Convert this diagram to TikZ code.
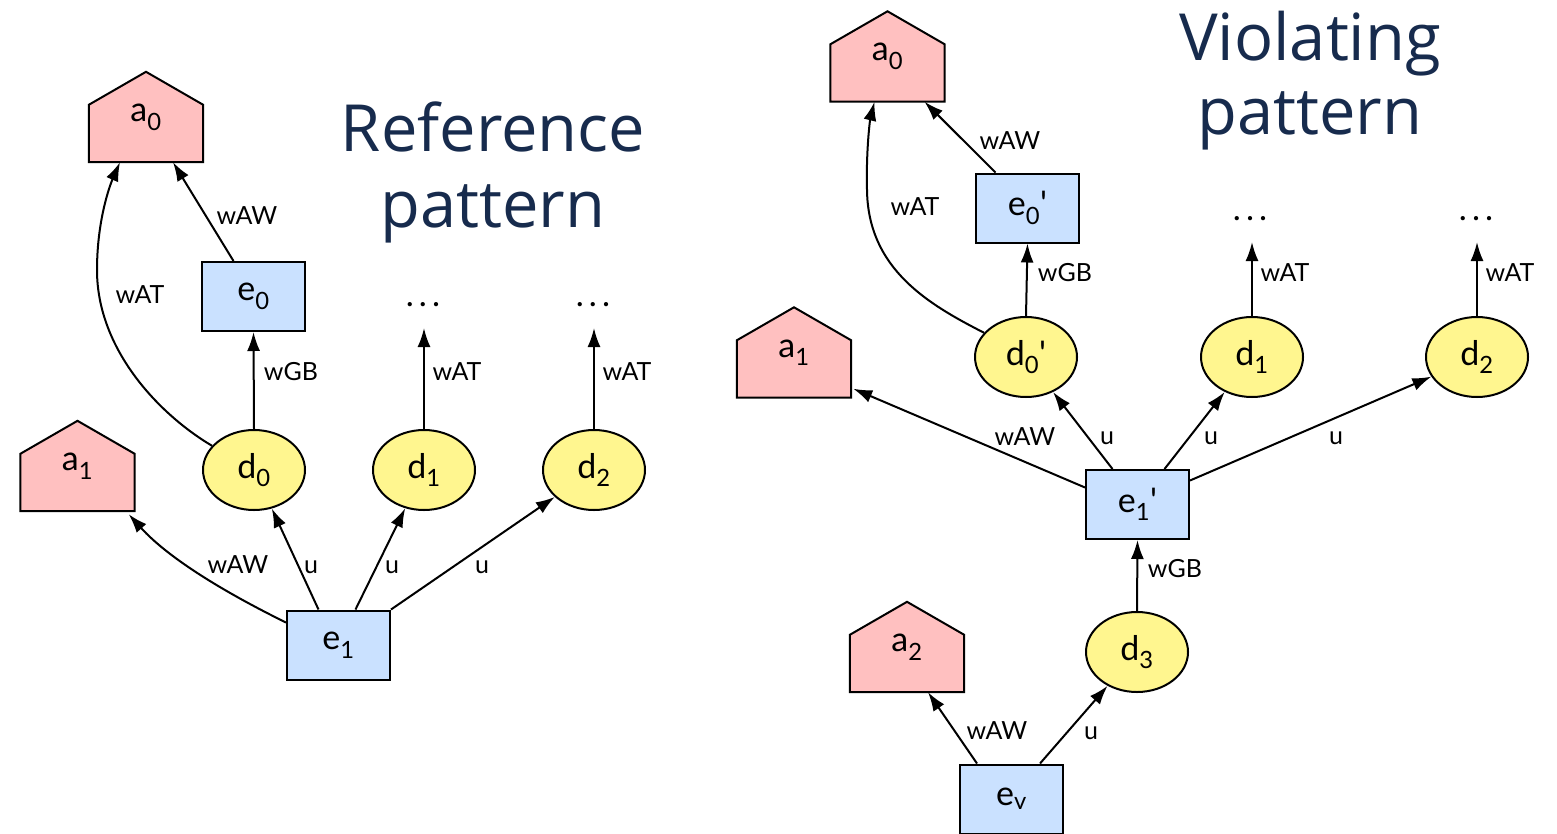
\documentclass[tikz,border=0pt]{standalone}
\usepackage{fontspec}
\setmainfont{Lato}
\newfontfamily\titlefont{Open Sans}
\usetikzlibrary{arrows.meta,backgrounds,shapes.geometric}
\definecolor{pinkf}{HTML}{FFC0C0}
\definecolor{bluef}{HTML}{CAE1FF}
\definecolor{yellowf}{HTML}{FFF68F}
\definecolor{titlec}{HTML}{172B4D}
\newcommand\lsub[1]{\textsubscript{#1}}
\newcommand\pr{\textquotesingle}
\newcommand\sdots{.\hspace{5pt}.\hspace{5pt}.}
\tikzset{
 every node/.style={inner sep=0pt},
 nfont/.style={font=\fontsize{34}{40}\selectfont},
 box/.style={nfont, draw, line width=2pt, fill=bluef, minimum width=103pt, minimum height=69pt},
 ell/.style={nfont, ellipse, draw, line width=2pt, fill=yellowf, minimum width=102pt, minimum height=80pt},
 hbox/.style={nfont, minimum width=114pt, minimum height=90pt},
 housepath/.style={draw, line width=2pt, fill=pinkf, line join=miter},
 arr/.style={draw, line width=2pt, -{Latex[length=19pt,width=13pt]}},
 lbl/.style={font=\fontsize{25}{30}\selectfont},
 ttl/.style={font=\titlefont\fontsize{65}{80}\selectfont, text=titlec, anchor=base},
 dotsn/.style={nfont, anchor=base},
}
\begin{document}
\begin{tikzpicture}[x=1pt,y=-1pt]
\useasboundingbox (0,0) rectangle (1557,833);
% ---------- titles
\node[ttl] (t1) at (493,151) {Reference};
\node[ttl] (t2) at (493,227) {pattern};
\node[ttl] (t3) at (1310,60) {Violating};
\node[ttl] (t4) at (1310,134) {pattern};
% ---------- left nodes
\node[hbox] (La0) at (146,117) {a\lsub{0}};
\node[box]  (Le0) at (253.5,296.5) {e\lsub{0}};
\node[hbox] (La1) at (77.5,466) {a\lsub{1}};
\node[ell]  (Ld0) at (254,470) {d\lsub{0}};
\node[ell]  (Ld1) at (424,470) {d\lsub{1}};
\node[ell]  (Ld2) at (594,470) {d\lsub{2}};
\node[box]  (Le1) at (338.5,645) {e\lsub{1}};
\node[dotsn] (Ldt1) at (423,306) {\sdots};
\node[dotsn] (Ldt2) at (593,306) {\sdots};
% ---------- right nodes
\node[hbox] (Ra0) at (887.5,56.5) {a\lsub{0}};
\node[box]  (Re0) at (1027.5,208) {e\lsub{0}\pr};
\node[hbox] (Ra1) at (794,352.5) {a\lsub{1}};
\node[ell]  (Rd0) at (1026,357) {d\lsub{0}\pr};
\node[ell]  (Rd1) at (1252,357) {d\lsub{1}};
\node[ell]  (Rd2) at (1477,357) {d\lsub{2}};
\node[box]  (Re1) at (1137.5,504.5) {e\lsub{1}\pr};
\node[ell]  (Rd3) at (1137,652) {d\lsub{3}};
\node[hbox] (Ra2) at (907,647) {a\lsub{2}};
\node[box]  (Rev) at (1011.5,799) {e\lsub{v}};
\node[dotsn] (Rdt1) at (1250,220) {\sdots};
\node[dotsn] (Rdt2) at (1476,220) {\sdots};
% ---------- house outlines
\begin{scope}[on background layer]
\foreach \n in {La0,La1,Ra0,Ra1,Ra2}
  \draw[housepath] (\n.south west) -- ([yshift=-33pt]\n.north west) -- (\n.north)
     -- ([yshift=-33pt]\n.north east) -- (\n.south east) -- cycle;
\end{scope}
% ---------- left edges
\draw[arr] ([xshift=-20pt]Le0.north) -- ([xshift=27pt]La0.south);
\draw[arr] (Ld0.150) .. controls (160,415) and (97,350) .. (97,270)
   .. controls (97,220) and (110,185) .. ([xshift=-26pt]La0.south);
\draw[arr] (Ld0.north) -- (Le0.south);
\draw[arr] (Ld1.north) -- ([yshift=-22pt]Ldt1.base -| Ld1.north);
\draw[arr] (Ld2.north) -- ([yshift=-22pt]Ldt2.base -| Ld2.north);
\draw[arr] ([yshift=-13pt]Le1.north west) .. controls (230,595) and (170,560) .. ([xshift=-6pt,yshift=-3pt]La1.south east);
\draw[arr] ([xshift=-20pt]Le1.north) -- (Ld0);
\draw[arr] ([xshift=17pt]Le1.north) -- (Ld1);
\draw[arr] (Le1.north east) -- (Ld2);
% ---------- right edges
\draw[arr] ([xshift=-32pt]Re0.north) -- ([xshift=37pt]Ra0.south);
\draw[arr] (Rd0.150) .. controls (930,305) and (868,270) .. (867,190)
   .. controls (866,150) and (870,120) .. ([xshift=-13pt]Ra0.south);
\draw[arr] (Rd0.north) -- (Re0.south);
\draw[arr] (Rd1.north) -- ([yshift=-22pt]Rdt1.base -| Rd1.north);
\draw[arr] (Rd2.north) -- ([yshift=-22pt]Rdt2.base -| Rd2.north);
\draw[arr] ([yshift=17pt]Re1.west) -- ([xshift=2pt,yshift=9pt]Ra1.south east);
\draw[arr] ([xshift=-25pt]Re1.north) -- (Rd0);
\draw[arr] ([xshift=27pt]Re1.north) -- (Rd1);
\draw[arr] ([yshift=24pt]Re1.east) -- (Rd2);
\draw[arr] (Rd3.north) -- (Re1.south);
\draw[arr] ([xshift=-34.5pt]Rev.north) -- ([xshift=21pt]Ra2.south);
\draw[arr] ([xshift=28.5pt]Rev.north) -- (Rd3);
% ---------- labels left
\node[lbl] (l1) at (247,216) {wAW};
\node[lbl] (l2) at (140,295) {wAT};
\node[lbl] (l3) at (291,372) {wGB};
\node[lbl] (l4) at (457,372) {wAT};
\node[lbl] (l5) at (627,372) {wAT};
\node[lbl] (l6) at (238,565) {wAW};
\node[lbl] (l7) at (311,567) {u};
\node[lbl] (l8) at (392,567) {u};
\node[lbl] (l9) at (482,567) {u};
% ---------- labels right
\node[lbl] (r1) at (1010,141) {wAW};
\node[lbl] (r2) at (915,207) {wAT};
\node[lbl] (r3) at (1065,273) {wGB};
\node[lbl] (r4) at (1285,273) {wAT};
\node[lbl] (r5) at (1510,273) {wAT};
\node[lbl] (r6) at (1025,437) {wAW};
\node[lbl] (r7) at (1107,438) {u};
\node[lbl] (r8) at (1211,438) {u};
\node[lbl] (r9) at (1336,438) {u};
\node[lbl] (r10) at (1175,569) {wGB};
\node[lbl] (r11) at (997,731) {wAW};
\node[lbl] (r12) at (1091,733) {u};
\end{tikzpicture}
\end{document}
